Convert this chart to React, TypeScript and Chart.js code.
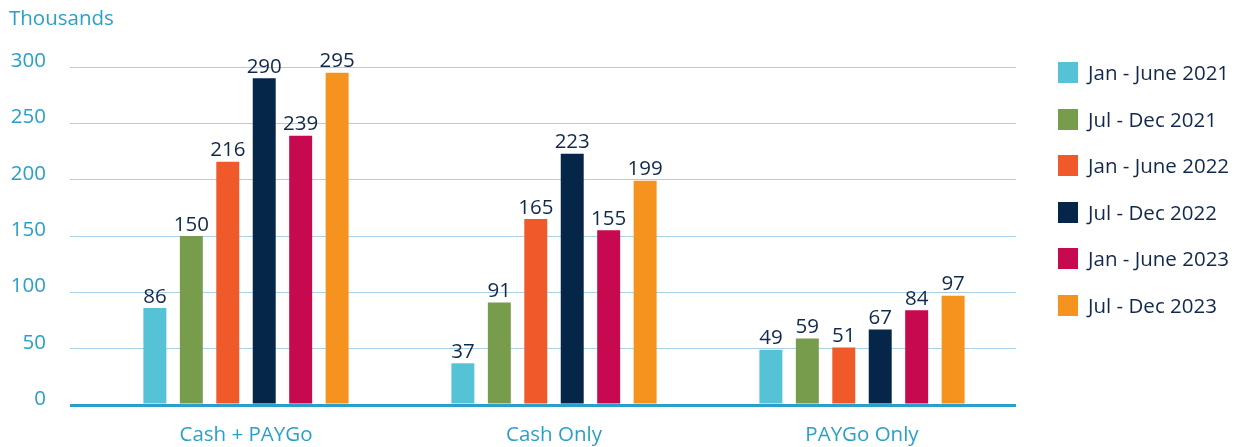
import React, { useEffect, useRef } from "react";
import { Chart, registerables } from "chart.js";

Chart.register(...registerables);

const categories = ["Cash + PAYGo", "Cash Only", "PAYGo Only"];
const seriesNames = [
  "Jan - June 2021",
  "Jul - Dec 2021",
  "Jan - June 2022",
  "Jul - Dec 2022",
  "Jan - June 2023",
  "Jul - Dec 2023",
];
const janJun2021 = [86, 37, 49];
const julDec2021 = [150, 91, 59];
const janJun2022 = [216, 165, 51];
const julDec2022 = [290, 223, 67];
const janJun2023 = [239, 155, 84];
const julDec2023 = [295, 199, 97];
const seriesColors = ["#56c2d6", "#769c4c", "#f05a2a", "#062649", "#c70a4f", "#f6921e"];
const yTickMax = 300;
const yTickStep = 50;

const FONT = "'Open Sans', 'Noto Sans', sans-serif";
const FONT_SIZE = 20.5;
const FONT_WEIGHT = 500;
const TEXT_DARK = "#13294b";
const AXIS_BLUE = "#2a9fcc";
const GRID_BLUE = "#a8d0e6";

const valueLabels = {
  id: "valueLabels",
  afterDatasetsDraw(chart: any) {
    const ctx = chart.ctx;
    ctx.save();
    ctx.font = `${FONT_WEIGHT} ${FONT_SIZE}px ${FONT}`;
    ctx.fillStyle = TEXT_DARK;
    ctx.textAlign = "center";
    ctx.textBaseline = "bottom";
    chart.data.datasets.forEach((ds: any, i: number) => {
      const meta = chart.getDatasetMeta(i);
      meta.data.forEach((el: any, j: number) => {
        ctx.fillText(String(ds.data[j]), el.x, el.y - 1);
      });
    });
    ctx.restore();
  },
};

export default function App() {
  const canvasRef = useRef<HTMLCanvasElement | null>(null);

  useEffect(() => {
    if (!canvasRef.current) return;
    const allSeries = [janJun2021, julDec2021, janJun2022, julDec2022, janJun2023, julDec2023];
    const chart = new Chart(canvasRef.current, {
      type: "bar",
      data: {
        labels: categories,
        datasets: allSeries.map((d, i) => ({
          label: seriesNames[i],
          data: d,
          backgroundColor: seriesColors[i],
          borderWidth: 0,
          categoryPercentage: 0.71,
          barPercentage: 0.63,
        })),
      },
      options: {
        responsive: false,
        animation: false,
        layout: { padding: { top: 67, right: 232, left: 0, bottom: 0 } },
        plugins: {
          legend: { display: false },
          tooltip: { enabled: false },
        },
        scales: {
          x: {
            grid: { display: false, drawTicks: false },
            border: { display: false },
            ticks: {
              color: AXIS_BLUE,
              font: { family: FONT, size: FONT_SIZE, weight: FONT_WEIGHT },
              padding: 18,
            },
            afterFit: (scale: any) => {
              scale.height = 42;
            },
          },
          y: {
            min: 0,
            max: yTickMax,
            border: { display: false },
            grid: {
              drawTicks: true,
              tickLength: 22,
              color: (ctx: any) => (ctx.tick && ctx.tick.value === 0 ? AXIS_BLUE : GRID_BLUE),
              lineWidth: (ctx: any) => (ctx.tick && ctx.tick.value === 0 ? 3 : 1),
            },
            ticks: {
              stepSize: yTickStep,
              color: AXIS_BLUE,
              font: { family: FONT, size: FONT_SIZE, weight: FONT_WEIGHT },
              padding: 24,
              labelOffset: -6,
            },
            afterFit: (scale: any) => {
              scale.width = 92;
            },
          },
        },
      },
      plugins: [valueLabels],
    });
    return () => chart.destroy();
  }, []);

  return (
    <div style={{ position: "absolute", left: 0, top: 0, width: 1248, height: 447, background: "#fff", overflow: "hidden" }}>
      <canvas ref={canvasRef} width={1248} height={447} style={{ position: "absolute", left: 0, top: 0 }} />
      <div
        style={{
          position: "absolute",
          left: 9,
          top: 5,
          fontFamily: FONT,
          fontSize: FONT_SIZE,
          fontWeight: FONT_WEIGHT,
          lineHeight: "24px",
          color: AXIS_BLUE,
        }}
      >
        Thousands
      </div>
      <div style={{ position: "absolute", left: 1058, top: 62 }}>
        {seriesNames.map((name, i) => (
          <div key={name} style={{ display: "flex", alignItems: "center", height: 21, marginBottom: 25.5 }}>
            <div style={{ width: 20, height: 21, background: seriesColors[i], flex: "none" }} />
            <div
              style={{
                marginLeft: 10,
                fontFamily: FONT,
                fontSize: FONT_SIZE,
                fontWeight: FONT_WEIGHT,
                color: TEXT_DARK,
                whiteSpace: "nowrap",
                lineHeight: "21px",
              }}
            >
              {name}
            </div>
          </div>
        ))}
      </div>
    </div>
  );
}
